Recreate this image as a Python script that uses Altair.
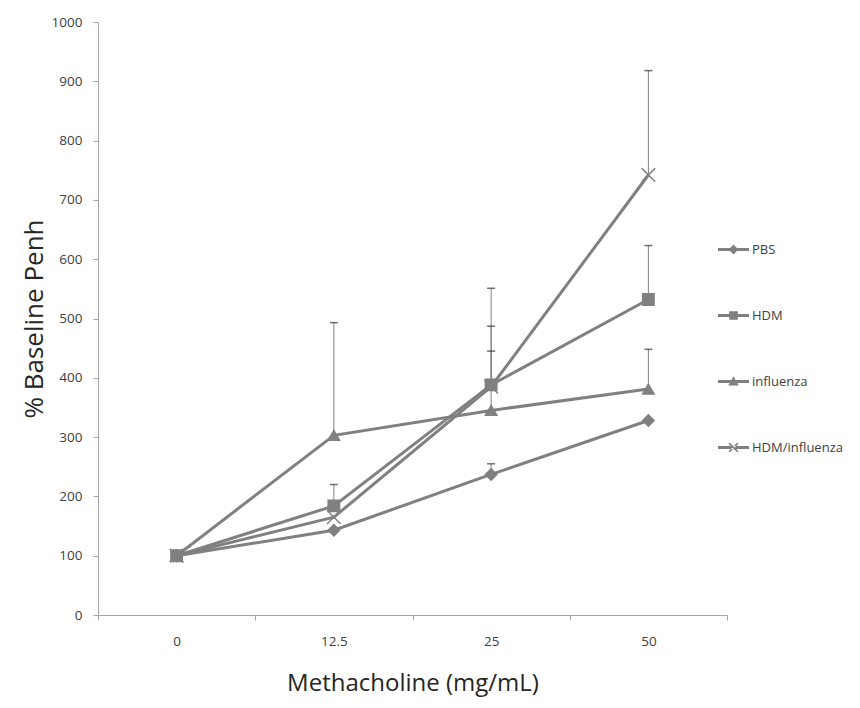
import json
import altair as alt
import pandas as pd

# ---- data ----
conc = ["0", "12.5", "25", "50"]
series = ["PBS", "HDM", "influenza", "HDM/influenza"]

pbs = [100, 143, 237, 328]
pbs_err = [0, 0, 18, 0]
hdm = [100, 184, 388, 532]
hdm_err = [0, 36, 99, 91]
flu = [100, 303, 345, 381]
flu_err = [0, 190, 100, 67]
hdmflu = [100, 165, 385, 742]
hdmflu_err = [0, 0, 166, 176]

rows = []
for name, vals, errs in zip(series, [pbs, hdm, flu, hdmflu],
                            [pbs_err, hdm_err, flu_err, hdmflu_err]):
    for i, (c, v, e) in enumerate(zip(conc, vals, errs)):
        rows.append(dict(series=name, idx=i, conc=c, value=v, err=e, top=v + e))
df = pd.DataFrame(rows)

GRAY = "#808080"
FONT = "Open Sans"

x_ticks = [-0.5, 0, 0.5, 1, 1.5, 2, 2.5, 3, 3.5]
label_expr = "datum.value % 1 == 0 ? " + json.dumps(conc) + "[datum.value] : ''"

x_enc = alt.X(
    "idx:Q",
    scale=alt.Scale(domain=[-0.5, 3.5], nice=False, zero=False),
    axis=alt.Axis(
        values=x_ticks,
        labelExpr=label_expr,
        tickOpacity={"condition": {"test": "datum.value % 1 != 0", "value": 1}, "value": 0},
        grid=False,
        labelOverlap=False,
        labelFlush=False,
        title="Methacholine (mg/mL)",
        titleFontSize=24,
        tickSize=5,
        labelPadding=14,
        titlePadding=24,
    ),
)
y_enc = alt.Y(
    "value:Q",
    scale=alt.Scale(domain=[0, 1000], nice=False),
    axis=alt.Axis(
        values=list(range(0, 1001, 100)),
        format="d",
        grid=False,
        title="% Baseline Penh",
        titleFontSize=26,
        tickSize=5,
        labelPadding=11,
        titlePadding=4,
    ),
)

base = alt.Chart(df)

lines = base.mark_line(color=GRAY, strokeWidth=3).encode(
    x=x_enc, y=y_enc, detail="series:N"
)

err_rules = base.transform_filter("datum.err > 0").mark_rule(
    color=GRAY, strokeWidth=1
).encode(x=x_enc, y="value:Q", y2="top:Q")

err_caps = base.transform_filter("datum.err > 0").mark_tick(
    orient="horizontal", size=8, thickness=1.5, color="#333333"
).encode(x=x_enc, y="top:Q")

x_path = "M-1.2,-1.2L1.2,1.2M-1.2,1.2L1.2,-1.2"
points = base.mark_point(
    fill=GRAY, stroke=GRAY, strokeWidth=1.5, opacity=1, fillOpacity=1, size=130
).encode(
    x=x_enc,
    y=y_enc,
    shape=alt.Shape(
        "series:N",
        scale=alt.Scale(domain=series, range=["diamond", "square", "triangle-up", x_path]),
        legend=None,
    ),
)

# legend symbols: filled line segment + marker (all filled shapes)
seg = "M-1,-0.1L1,-0.1L1,0.1L-1,0.1Z"
legend_paths = [
    seg + "M0,-0.32L0.32,0L0,0.32L-0.32,0Z",
    seg + "M-0.28,-0.28L0.28,-0.28L0.28,0.28L-0.28,0.28Z",
    seg + "M0,-0.34L0.34,0.26L-0.34,0.26Z",
    seg + "M-0.25,-0.32L0.32,0.25L0.25,0.32L-0.32,-0.25Z"
        + "M-0.25,0.32L0.32,-0.25L0.25,-0.32L-0.32,0.25Z",
]
legend_layer = base.mark_point(
    filled=True, color=GRAY, opacity=0, size=960
).encode(
    x=x_enc,
    y=y_enc,
    shape=alt.Shape(
        "series:N",
        scale=alt.Scale(domain=series, range=legend_paths),
        legend=alt.Legend(
            title=None,
            orient="none",
            legendX=620,
            legendY=212,
            symbolSize=960,
            symbolOpacity=1,
            symbolFillColor=GRAY,
            symbolStrokeWidth=0,
            rowPadding=43,
            labelOffset=3,
            labelFontSize=13,
            labelColor="#404040",
            labelFont=FONT,
            padding=0,
        ),
    ),
)

chart = (
    alt.layer(lines, err_rules, err_caps, points, legend_layer)
    .resolve_scale(shape="independent")
    .properties(
        width=629,
        height=593,
        autosize=alt.AutoSizeParams(type="none"),
        padding={"left": 90, "top": 14, "right": 125, "bottom": 85},
    )
    .configure_view(stroke=None)
    .configure_axis(
        domainColor="#a6a6a6",
        tickColor="#a6a6a6",
        labelColor="#404040",
        titleColor="#262626",
        labelFont=FONT,
        titleFont=FONT,
        labelFontSize=13.5,
        titleFontWeight="normal",
    )
)

chart.save("out.html", embed_options={"renderer": "svg", "actions": False})
